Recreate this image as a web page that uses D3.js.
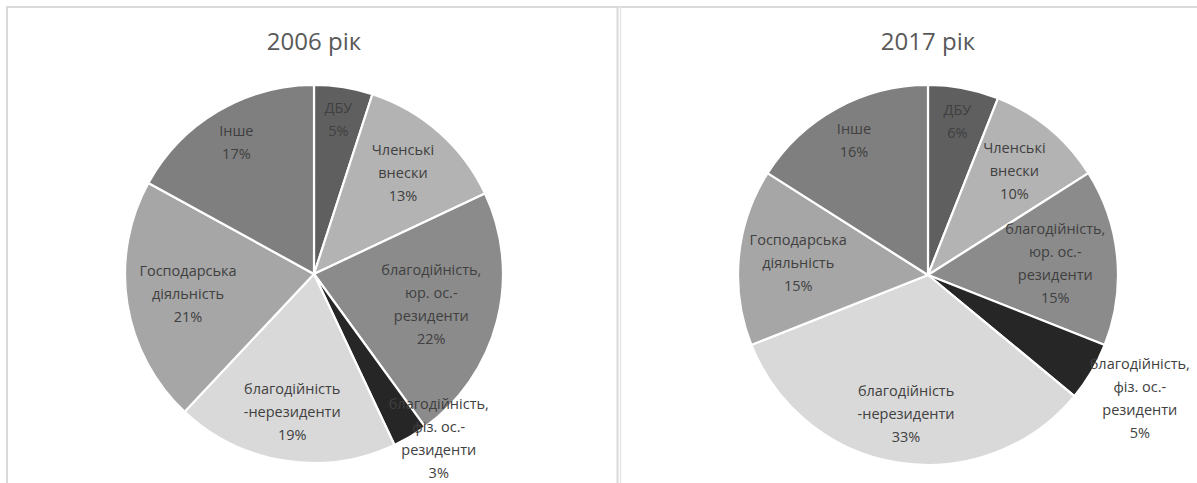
<!DOCTYPE html>
<html>
<head>
<meta charset="utf-8">
<script src="https://cdn.jsdelivr.net/npm/d3@7"></script>
<style>
  html, body { margin: 0; padding: 0; background: #fff; }
  svg { display: block; }
  text { font-family: "Open Sans", "Noto Sans", sans-serif; }
</style>
</head>
<body>
<svg id="chart" width="1197" height="483"></svg>
<script>
// ---- data ----
const categories = [
  "ДБУ",
  "Членські\nвнески",
  "благодійність,\nюр. ос.-\nрезиденти",
  "благодійність,\nфіз. ос.-\nрезиденти",
  "благодійність\n-нерезиденти",
  "Господарська\nдіяльність",
  "Інше"
];
const years = ["2006 рік", "2017 рік"];
const values2006 = [5, 13, 22, 3, 19, 21, 17];
const values2017 = [6, 10, 15, 5, 33, 15, 16];
const sliceColors = ["#5f5f5f", "#b3b3b3", "#8b8b8b", "#262626", "#d9d9d9", "#a6a6a6", "#7f7f7f"];

// ---- layout ----
const W = 1197, H = 483;
const svg = d3.select("#chart");

// panel borders
const border = "#d9d9d9";
svg.append("line").attr("x1", 6).attr("x2", W).attr("y1", 7).attr("y2", 7)
  .attr("stroke", border).attr("stroke-width", 2);
svg.append("line").attr("x1", 7).attr("x2", 7).attr("y1", 6).attr("y2", H)
  .attr("stroke", border).attr("stroke-width", 2);
svg.append("line").attr("x1", 617.5).attr("x2", 617.5).attr("y1", 6).attr("y2", H)
  .attr("stroke", border).attr("stroke-width", 2);
svg.append("line").attr("x1", 620.5).attr("x2", 620.5).attr("y1", 6).attr("y2", H)
  .attr("stroke", "#e6e6e6").attr("stroke-width", 1.5);

const panels = [
  { title: years[0], values: values2006, cx: 314, cy: 274, R: 189 },
  { title: years[1], values: values2017, cx: 928, cy: 275, R: 190 }
];

const pie = d3.pie().sort(null).value(d => d);
const lineH = 23;
const TAU = Math.PI * 2;

function angleOf(x, y) {
  let a = Math.atan2(x, -y);
  if (a < 0) a += TAU;
  return a;
}

panels.forEach(p => {
  const g = svg.append("g").attr("transform", `translate(${p.cx},${p.cy})`);

  svg.append("text")
    .attr("x", p.cx).attr("y", 50)
    .attr("text-anchor", "middle")
    .attr("font-size", 24)
    .attr("fill", "#595959")
    .text(p.title);

  const arcs = pie(p.values);
  const arc = d3.arc().innerRadius(0).outerRadius(p.R);

  g.selectAll("path.slice").data(arcs).join("path")
    .attr("class", "slice")
    .attr("d", arc)
    .attr("fill", (d, i) => sliceColors[i])
    .attr("stroke", "#fff")
    .attr("stroke-width", 2.2)
    .attr("stroke-linejoin", "round");

  arcs.forEach((d, i) => {
    const lines = categories[i].split("\n").concat([d3.format(".0f")(d.value) + "%"]);
    const t = g.append("text")
      .attr("text-anchor", "middle")
      .attr("font-size", 14.5)
      .attr("fill", "#404040");
    lines.forEach((ln, k) => {
      t.append("tspan").attr("x", 0).attr("dy", k === 0 ? 0 : lineH).text(ln);
    });
    const bb = t.node().getBBox();
    const w = bb.width, h = lines.length * lineH;
    const mid = (d.startAngle + d.endAngle) / 2;
    const sx = Math.sin(mid), sy = -Math.cos(mid);
    // "inside end" placement: box edge a little inside the rim
    const support = Math.abs(sx) * w / 2 + Math.abs(sy) * h / 2;
    const r = p.R - support - 8;

    function fits(cx, cy, ww, hh) {
      const pts = [[cx - ww / 2, cy - hh / 2], [cx + ww / 2, cy - hh / 2],
                   [cx - ww / 2, cy + hh / 2], [cx + ww / 2, cy + hh / 2]];
      return pts.every(([x, y]) => {
        const a = angleOf(x, y);
        return a >= d.startAngle && a <= d.endAngle;
      });
    }

    let pos;
    if (fits(r * sx, r * sy, w * 0.6, h * 0.7)) {
      pos = [r * sx, r * sy];
    } else {
      const ro = p.R + 6;
      let cx = ro * sx + (w / 2) * sx;
      let cy = ro * sy + (h / 2) * sy;
      const maxBottom = H + 1 - p.cy;
      if (cy + h / 2 > maxBottom) cy = maxBottom - h / 2;
      pos = [cx, cy];
    }
    const firstBaseline = pos[1] - h / 2 + lineH * 0.72;
    t.attr("transform", `translate(${pos[0]},${firstBaseline})`);
  });
});
</script>
</body>
</html>
